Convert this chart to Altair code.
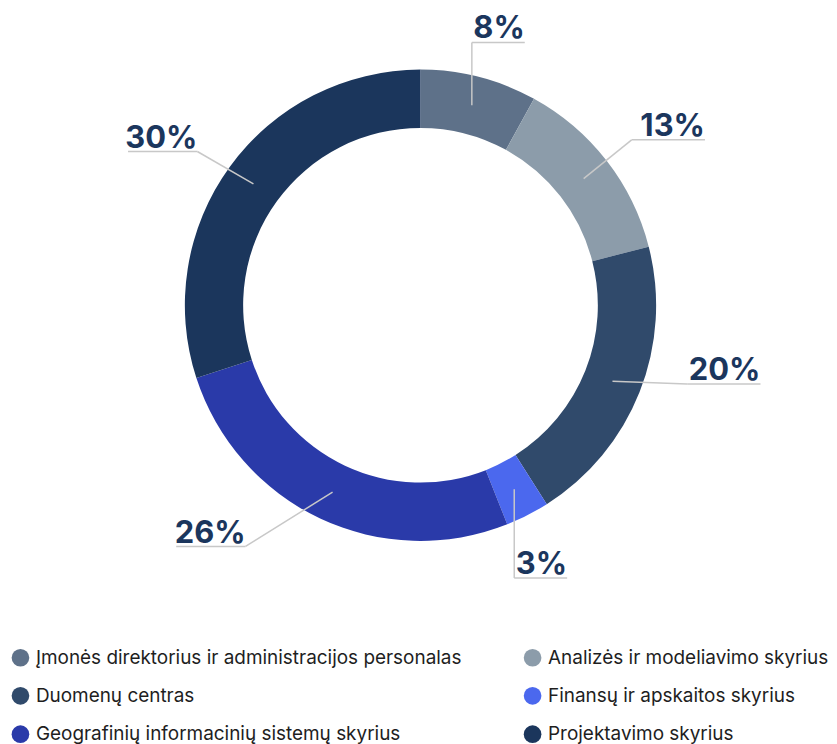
import math
import altair as alt
import pandas as pd

# ---- data ----
categories = [
    "Įmonės direktorius ir administracijos personalas",
    "Analizės ir modeliavimo skyrius",
    "Duomenų centras",
    "Finansų ir apskaitos skyrius",
    "Geografinių informacinių sistemų skyrius",
    "Projektavimo skyrius",
]
values = [8, 13, 20, 3, 26, 30]
colors = ["#5e7189", "#8c9caa", "#304a6b", "#4b68ee", "#2a3aa9", "#1b365c"]

# legend reads row by row (two columns); Vega fills columns first, so reorder
legend_order = [0, 2, 4, 1, 3, 5]

# ---- label leader layout (direction clockwise from 12 o'clock in degrees, length px) ----
leader_dir = [0, 51, 92, 180, 238, 300]
leader_len = [63, 62, 75, 89, 103, 65]

W, H = 821, 736
CX, CY = 414, 297          # donut centre inside the plot area
R_OUT, R_IN = 236.5, 178
R_MID = (R_OUT + R_IN) / 2
FONT_NUM = 31

total = sum(values)
rows, segs, labels = [], [], []
cum = 0
for i, (c, v) in enumerate(zip(categories, values)):
    rows.append({"idx": i, "category": c, "value": v})
    mid = (cum + v / 2) / total * 2 * math.pi
    cum += v
    sx, sy = R_MID * math.sin(mid), R_MID * math.cos(mid)
    d = math.radians(leader_dir[i])
    ex, ey = sx + leader_len[i] * math.sin(d), sy + leader_len[i] * math.cos(d)
    txt = f"{v}%"
    tw = FONT_NUM * (0.66 * (len(txt) - 1) + 0.86)
    side = "right" if math.sin(mid) >= 0 else "left"
    segs.append({"x": sx, "y": sy, "x2": ex, "y2": ey})
    if side == "right":
        segs.append({"x": ex, "y": ey, "x2": ex + tw + 6, "y2": ey})
        labels.append({"label": txt, "x": ex + tw + 6, "y": ey + 4, "side": side})
    else:
        segs.append({"x": ex - tw - 2, "y": ey, "x2": ex, "y2": ey})
        labels.append({"label": txt, "x": ex, "y": ey + 4, "side": side})

df = pd.DataFrame(rows)
seg_df = pd.DataFrame(segs)
lab_df = pd.DataFrame(labels)

xs = alt.Scale(domain=[-CX, W - CX], nice=False, zero=False)
ys = alt.Scale(domain=[CY - H, CY], nice=False, zero=False)

arcs = alt.Chart(df).mark_arc(outerRadius=R_OUT, innerRadius=R_IN).encode(
    theta=alt.Theta("value:Q", stack=True),
    order=alt.Order("idx:Q"),
    x=alt.XDatum(0, type="quantitative", scale=xs, axis=None),
    y=alt.YDatum(0, type="quantitative", scale=ys, axis=None),
    color=alt.Color(
        "category:N",
        scale=alt.Scale(
            domain=[categories[k] for k in legend_order],
            range=[colors[k] for k in legend_order],
        ),
        legend=alt.Legend(
            title=None,
            orient="none",
            legendX=3,
            legendY=641,
            columns=2,
            columnPadding=61,
            rowPadding=18.5,
            padding=0,
            symbolType="circle",
            symbolSize=314,
            symbolStrokeWidth=0,
            symbolOpacity=1,
            labelFont="Inter",
            labelFontSize=19,
            labelColor="#1e1e1e",
            labelOffset=6,
            labelLimit=0,
        ),
    ),
)

lines = alt.Chart(seg_df).mark_rule(color="#c8c8c8", strokeWidth=1.5).encode(
    x=alt.X("x:Q", scale=xs, axis=None),
    y=alt.Y("y:Q", scale=ys, axis=None),
    x2="x2:Q",
    y2="y2:Q",
)

text_common = dict(font="Inter", fontWeight=700, fontSize=FONT_NUM, color="#1b365d", baseline="alphabetic")
txt_labels = alt.Chart(lab_df).mark_text(align="right", **text_common).encode(
    x=alt.X("x:Q", scale=xs, axis=None),
    y=alt.Y("y:Q", scale=ys, axis=None),
    text="label:N",
)

chart = alt.layer(arcs, lines, txt_labels).properties(
    width=W, height=H, padding=0, background="white"
).configure_view(stroke=None)

chart.save("out.html", embed_options={"renderer": "svg", "actions": False})
